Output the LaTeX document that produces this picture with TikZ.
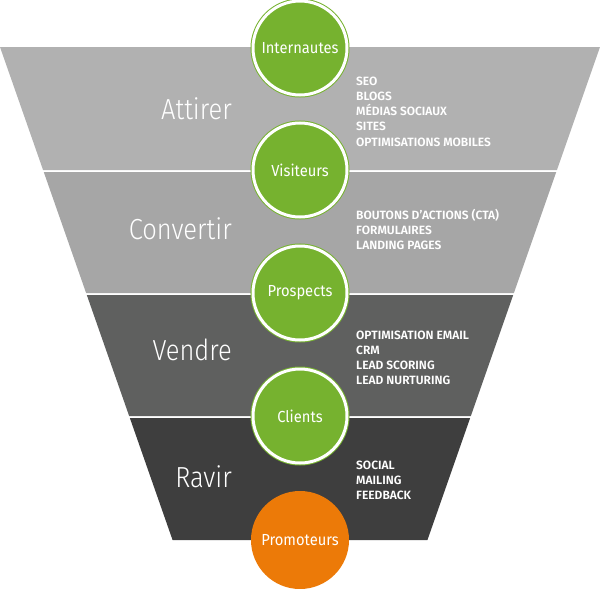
\documentclass[tikz,border=0pt]{standalone}
\usepackage{fontspec}
\usepackage{tikz}
\usetikzlibrary{positioning}

\newfontfamily\bigfont{Fira Sans Light}[FakeStretch=0.88]
\newfontfamily\listfont{Fira Sans SemiBold}
\newfontfamily\circfont{Fira Sans}[FakeStretch=0.92]

\definecolor{bandA}{HTML}{B1B1B1}
\definecolor{bandB}{HTML}{A6A6A6}
\definecolor{bandC}{HTML}{5F605F}
\definecolor{bandD}{HTML}{3E3E3E}
\definecolor{leafgreen}{HTML}{76B22F}
\definecolor{promoorange}{HTML}{EC7A08}

\tikzset{
	stage/.style={circle, fill=leafgreen, draw=leafgreen, line width=1pt,
		double=white, double distance=3pt, minimum size=94pt, inner sep=0pt,
		text=white, font=\circfont\fontsize{16}{19}\selectfont},
	promo/.style={circle, fill=promoorange, minimum size=98pt, inner sep=0pt,
		text=white, font=\circfont\fontsize{16}{19}\selectfont},
	phase/.style={anchor=base east, inner sep=0pt, text=white,
		font=\bigfont\fontsize{29}{34}\selectfont},
	item/.style={anchor=base west, inner sep=0pt, text=white,
		font=\listfont\fontsize{12}{14}\selectfont}
}

\begin{document}
\begin{tikzpicture}[x=1pt,y=-1pt]
		\useasboundingbox (0,0) rectangle (600,589);

		% funnel bands
		\foreach \ya/\yb/\col in {47/170/bandA, 172/293/bandB, 295/416/bandC, 418/540/bandD}
			\fill[\col] ({0.35*(\ya-47)},\ya) -- ({600-0.35*(\ya-47)},\ya)
				-- ({600-0.35*(\yb-47)},\yb) -- ({0.35*(\yb-47)},\yb) -- cycle;

		% phases
		\node[phase] (attirer) at (232,119) {Attirer};
		\node[phase] (convertir) at (232,239) {Convertir};
		\node[phase] (vendre) at (232,360) {Vendre};
		\node[phase] (ravir) at (232,487) {Ravir};

		% actions
		\foreach \t [count=\i] in {SEO, BLOGS, MÉDIAS SOCIAUX, SITES, OPTIMISATIONS MOBILES}
			\node[item] (attirer-\i) at (356,{85+15.3*(\i-1)}) {\t};
		\foreach \t [count=\i] in {BOUTONS D’ACTIONS (CTA), FORMULAIRES, LANDING PAGES}
			\node[item] (convertir-\i) at (356,{219+15*(\i-1)}) {\t};
		\foreach \t [count=\i] in {OPTIMISATION EMAIL, CRM, LEAD SCORING, LEAD NURTURING}
			\node[item] (vendre-\i) at (356,{339+15*(\i-1)}) {\t};
		\foreach \t [count=\i] in {SOCIAL, MAILING, FEEDBACK}
			\node[item] (ravir-\i) at (356,{469+15*(\i-1)}) {\t};

		% contacts
		\node[stage] (internautes) at (300,48) {Internautes};
		\node[stage] (visiteurs) at (300,170) {Visiteurs};
		\node[stage] (prospects) at (300,293) {Prospects};
		\node[stage] (clients) at (300,416) {Clients};
		\node[promo] (promoteurs) at (300,540) {Promoteurs};
	\end{tikzpicture}
\end{document}
